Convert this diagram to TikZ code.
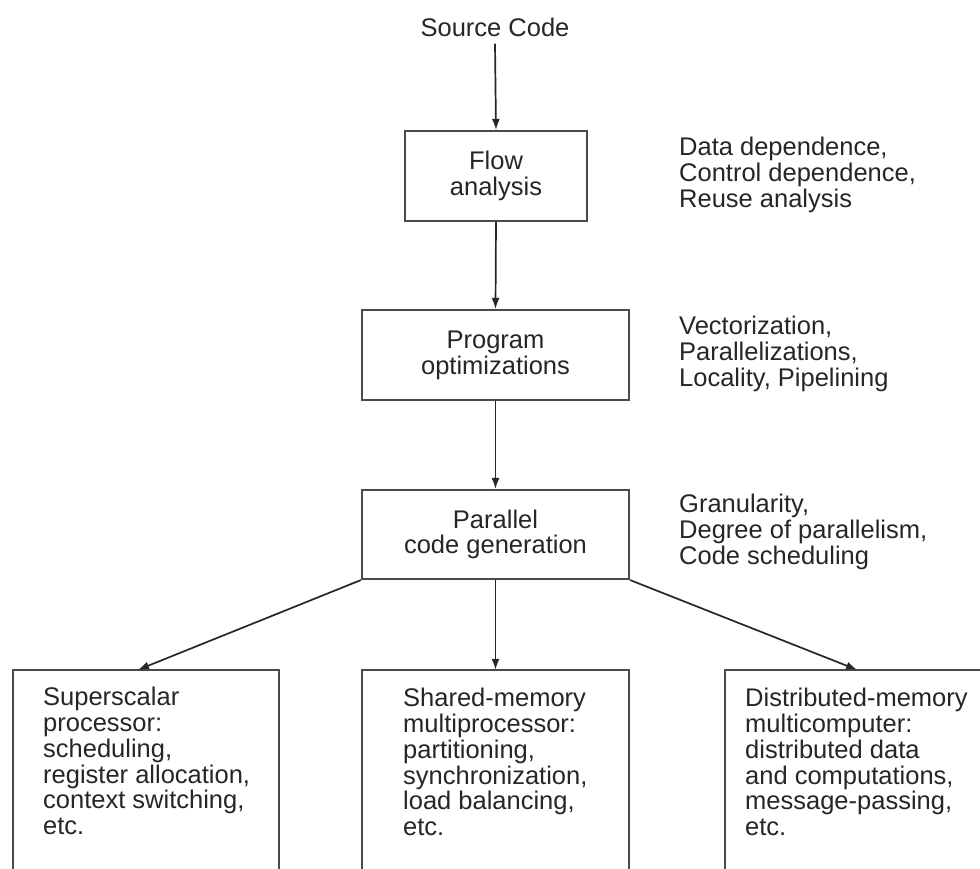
\documentclass[tikz,border=0pt]{standalone}
\usepackage{fontspec}
\setmainfont{Liberation Sans}
\usetikzlibrary{arrows.meta,calc}
\definecolor{ink}{HTML}{262626}
\definecolor{edge}{HTML}{4A4A4A}
\tikzset{
  txt/.style={font=\fontsize{25.5}{25.8}\selectfont, text=ink, inner sep=0pt},
  box/.style={draw=edge, line width=2.1pt, rectangle, inner sep=0pt, align=center,
              font=\fontsize{25.5}{25.8}\selectfont, text=ink},
  openbox/.style={draw=none, rectangle, inner sep=0pt},
  side/.style={txt, align=left, anchor=north west},
  arr/.style={draw=ink, line width=1.7pt, -{Latex[length=11pt,width=8pt]}},
  frame/.style={draw=edge, line width=2.1pt}
}
\begin{document}
\begin{tikzpicture}[x=1pt,y=-1pt]
\useasboundingbox (0,0) rectangle (980,869);
\fill[white] (0,0) rectangle (980,869);

\node[txt] (src) at (495,27) {Source Code};

\node[box, minimum width=182pt, minimum height=90pt] (flow) at (496,176) {Flow\\analysis};
\node[box, minimum width=267pt, minimum height=90pt] (prog) at (495.5,355) {Program\\optimizations};
\node[box, minimum width=267pt, minimum height=89pt] (par) at (495.5,534.5) {Parallel\\code generation};

\node[side] (s1) at (679,137) {Data dependence,\\Control dependence,\\Reuse analysis};
\node[side] (s2) at (679,316) {Vectorization,\\Parallelizations,\\Locality, Pipelining};
\node[side] (s3) at (679,494) {Granularity,\\Degree of parallelism,\\Code scheduling};

% bottom boxes (cut off by the picture's lower edge)
\node[openbox, minimum width=266pt, minimum height=199pt] (bl) at (146,769.5) {};
\node[openbox, minimum width=267pt, minimum height=199pt] (bm) at (495.5,769.5) {};
\node[openbox, minimum width=255pt, minimum height=199pt] (br) at (852.5,769.5) {};
\draw[frame] (bl.south west) -- (bl.north west) -- (bl.north east) -- (bl.south east);
\draw[frame] (bm.south west) -- (bm.north west) -- (bm.north east) -- (bm.south east);
\draw[frame] (br.south west) -- (br.north west) -- (br.north east);

\node[side] (t1) at (43,687) {Superscalar\\processor:\\scheduling,\\register allocation,\\context switching,\\etc.};
\node[side] (t2) at (403,688) {Shared-memory\\multiprocessor:\\partitioning,\\synchronization,\\load balancing,\\etc.};
\node[side] (t3) at (745,688) {Distributed-memory\\multicomputer:\\distributed data\\and computations,\\message-passing,\\etc.};

% connectors
\draw[arr] ([yshift=-7pt]src.south) -- (flow.north);
\draw[arr] (flow.south) -- (prog.north);
\draw[arr] (prog.south) -- (par.north);
\draw[arr] (par.south) -- (bm.north);
\draw[arr] (par.south west) -- ($(bl.north west)!0.47!(bl.north east)$);
\draw[arr] (par.south east) -- ($(br.north west)!0.518!(br.north east)$);
\end{tikzpicture}
\end{document}
